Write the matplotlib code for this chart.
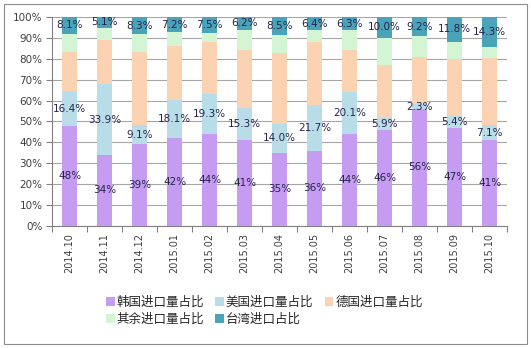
import matplotlib
matplotlib.use("Agg")
import matplotlib.pyplot as plt
import numpy as np
from matplotlib.patches import Rectangle

plt.rcParams['font.family'] = ['Noto Sans CJK SC', 'DejaVu Sans']

months = ["2014.10", "2014.11", "2014.12", "2015.01", "2015.02", "2015.03", "2015.04",
          "2015.05", "2015.06", "2015.07", "2015.08", "2015.09", "2015.10"]
korea = [48, 34, 39, 42, 44, 41, 35, 36, 44, 46, 56, 47, 41]
usa = [16.4, 33.9, 9.1, 18.1, 19.3, 15.3, 14.0, 21.7, 20.1, 5.9, 2.3, 5.4, 7.1]
germany = [19.0, 21.0, 35.3, 26.2, 24.6, 27.9, 33.6, 30.5, 20.1, 25.1, 22.7, 27.5, 32.4]
other = [8.5, 6.0, 8.3, 6.5, 4.6, 9.6, 8.9, 5.4, 9.5, 13.0, 9.8, 8.3, 5.2]
taiwan = [8.1, 5.1, 8.3, 7.2, 7.5, 6.2, 8.5, 6.4, 6.3, 10.0, 9.2, 11.8, 14.3]

korea_labels = ["48%", "34%", "39%", "42%", "44%", "41%", "35%", "36%", "44%", "46%", "56%", "47%", "41%"]
usa_labels = ["16.4%", "33.9%", "9.1%", "18.1%", "19.3%", "15.3%", "14.0%", "21.7%", "20.1%", "5.9%", "2.3%", "5.4%", "7.1%"]
taiwan_labels = ["8.1%", "5.1%", "8.3%", "7.2%", "7.5%", "6.2%", "8.5%", "6.4%", "6.3%", "10.0%", "9.2%", "11.8%", "14.3%"]

series_names = ["韩国进口量占比", "美国进口量占比", "德国进口量占比", "其余进口量占比", "台湾进口占比"]
colors = ["#c69cf2", "#b8dde8", "#fcd3b2", "#d4f5d4", "#4aa3b8"]

fig = plt.figure(figsize=(5.31, 3.48), dpi=100)
ax = fig.add_axes([0.098, 0.3506, 0.857, 0.6006])

x = np.arange(len(months))
w = 0.42
data = [korea, usa, germany, other, taiwan]
bottom = np.zeros(len(months))
bars = []
handles = []
for vals, c, name in zip(data, colors, series_names):
    vals = np.array(vals, dtype=float)
    b = ax.bar(x, vals, w, bottom=bottom, color=c, label=name, zorder=3, linewidth=0)
    handles.append(b)
    bars.append((vals, bottom.copy()))
    bottom = bottom + vals

txt_color = "#26234d"
for idx, labels in [(0, korea_labels), (1, usa_labels), (4, taiwan_labels)]:
    vals, bot = bars[idx]
    for i, lab in enumerate(labels):
        ax.text(x[i], bot[i] + vals[i] / 2, lab, ha='center', va='center',
                fontsize=7.5, color=txt_color, family='DejaVu Sans', zorder=5)

ax.set_xlim(-0.5, len(months) - 0.5)
ax.set_ylim(0, 100)
ax.set_yticks(np.arange(0, 101, 10))
ax.set_yticklabels([f"{v}%" for v in range(0, 101, 10)], fontsize=7.5, color="#404040", family='DejaVu Sans')
ax.yaxis.grid(True, color="#a6a6a6", linewidth=0.8, zorder=0)
ax.set_axisbelow(True)

ax.set_xticks(np.arange(-0.5, len(months), 1))
ax.set_xticklabels([])
ax.set_xticks(x, minor=True)
ax.set_xticklabels(months, minor=True, rotation=90, fontsize=7, color="#404040", family='DejaVu Sans')
ax.tick_params(axis='x', which='major', length=4, color="#808080", direction='out')
ax.tick_params(axis='x', which='minor', length=0, pad=5)
ax.tick_params(axis='y', length=4, color="#808080", direction='out', pad=3)

for s in ['top', 'right']:
    ax.spines[s].set_visible(False)
for s in ['left', 'bottom']:
    ax.spines[s].set_color("#808080")
    ax.spines[s].set_linewidth(0.8)

# row-major order for a 3-column, 2-row legend
order = [0, 3, 1, 4, 2]
leg = fig.legend([handles[i] for i in order], [series_names[i] for i in order],
                 loc='upper left', bbox_to_anchor=(0.19, 0.165),
                 ncol=3, frameon=False, fontsize=9, handlelength=0.7, handleheight=0.7,
                 handletextpad=0.15, columnspacing=0.9, labelspacing=0.35, borderaxespad=0)
for t in leg.get_texts():
    t.set_color("#262626")

fig.patches.append(Rectangle((0.008, 0.012), 0.984, 0.976, transform=fig.transFigure,
                             fill=False, edgecolor="#8c8c8c", linewidth=0.8))

fig.savefig("out.png", dpi=100)
